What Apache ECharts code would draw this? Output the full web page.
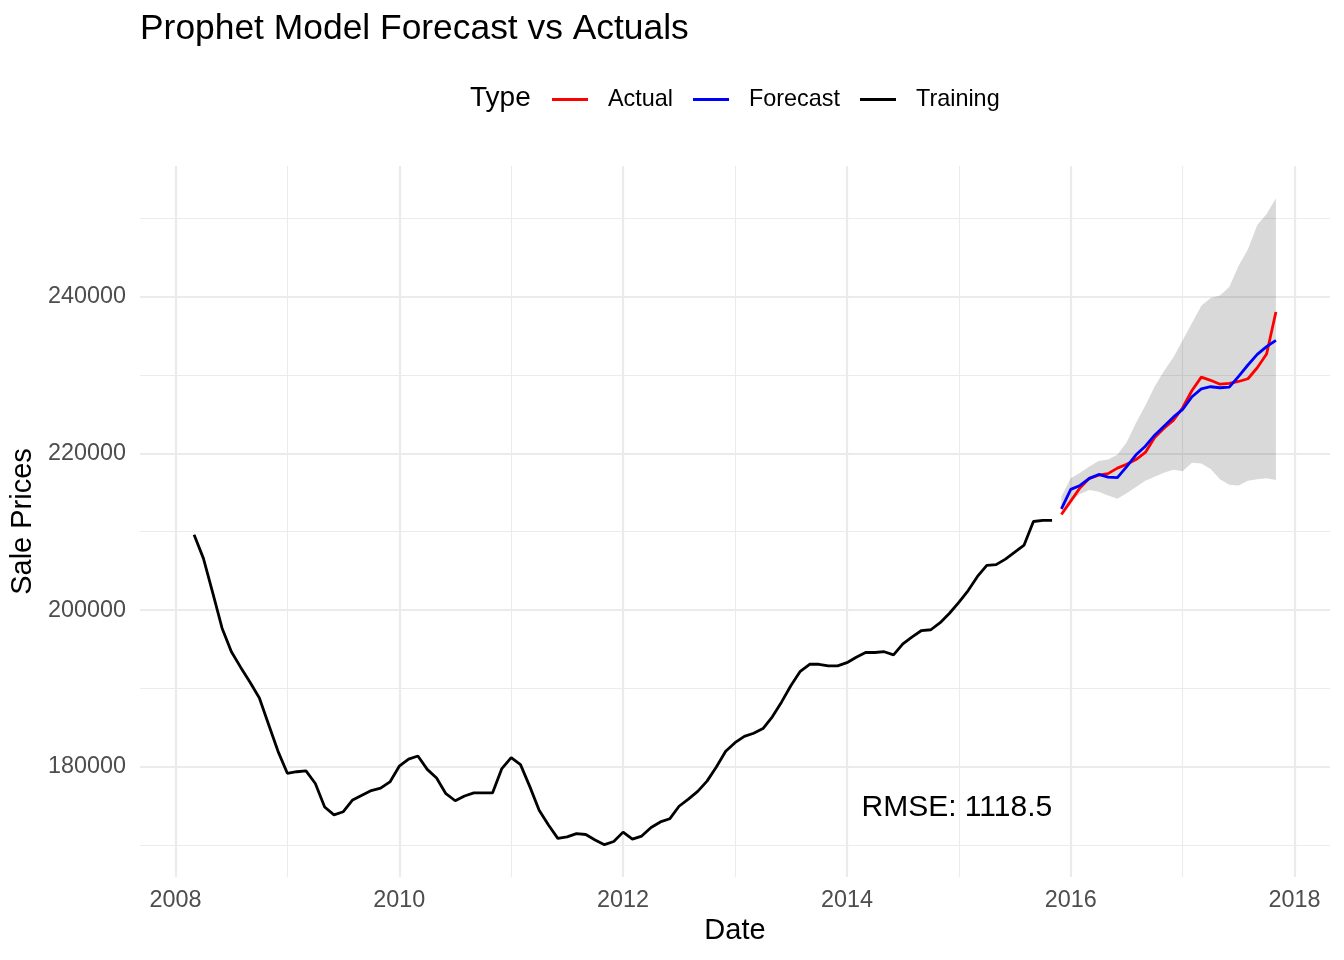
<!DOCTYPE html>
<html><head><meta charset="utf-8">
<script src="https://cdn.jsdelivr.net/npm/echarts@6/dist/echarts.min.js"></script>
<style>html,body{margin:0;padding:0;background:#fff}#c{width:1344px;height:960px}</style>
</head><body><div id="c"></div>
<script>
// ---- data ----
const trainingStart = [2008, 3];   // year, month of first training point (monthly)
const trainingValues = [
  209600, 206600, 202200, 197700, 194700, 192700, 190800, 188800, 185400, 182000,
  179200, 179400, 179500, 177900, 174900, 173900, 174300, 175800, 176400, 177000,
  177300, 178100, 180100, 181000, 181400, 179700, 178600, 176600, 175700, 176300,
  176700, 176700, 176700, 179800, 181200, 180300, 177500, 174500, 172600, 170900,
  171100, 171500, 171400, 170700, 170100, 170500, 171700, 170800, 171200, 172300,
  173000, 173400, 175000, 175900, 176900, 178200, 180000, 182000, 183100, 183900,
  184300, 184900, 186400, 188300, 190400, 192200, 193100, 193100, 192900, 192900,
  193300, 194000, 194600, 194600, 194700, 194300, 195700, 196600, 197400, 197500,
  198400, 199600, 201000, 202500, 204300, 205700, 205800, 206500, 207400, 208300,
  211300, 211450, 211450
];
const testStart = [2015, 12];      // first month of the test / forecast period
const actualValues = [
  212200, 213900, 215600, 216800, 217200, 217400, 218100, 218600, 219200, 220100,
  222000, 223200, 224200, 225800, 228000, 229700, 229300, 228800, 228900, 229150,
  229500, 230900, 232650, 238000
];
const forecastValues = [
  212900, 215400, 215900, 216800, 217300, 216950, 216900, 218300, 219800, 220900,
  222300, 223450, 224600, 225600, 227200, 228200, 228480, 228350, 228430, 229800,
  231250, 232600, 233600, 234400
];
const upperValues = [
  214500, 216800, 217500, 218300, 219000, 219200, 219800, 221400, 223900, 226100,
  228500, 230500, 232200, 234400, 236600, 238800, 239800, 240100, 241200, 243900,
  246000, 249100, 250500, 252500
];
const lowerValues = [
  212500, 213900, 214800, 215300, 215100, 214600, 214200, 214900, 215700, 216500,
  217000, 217500, 217900, 217700, 218800, 218700, 218000, 216700, 216000, 215900,
  216500, 216700, 216800, 216600
];
const xMajorTicks = [2008, 2010, 2012, 2014, 2016, 2018];
const xMinorTicks = [2009, 2011, 2013, 2015, 2017];
const yMajorTicks = [180000, 200000, 220000, 240000];
const yMinorTicks = [170000, 190000, 210000, 230000, 250000];
const seriesNames = ['Actual', 'Forecast', 'Training'];
const rmseText = 'RMSE: 1118.5';
const rmseAt = [2015, 175000];

// ---- helpers ----
function monthDates(start, n) {
  const out = [];
  for (let i = 0; i < n; i++) out.push(start[0] + (start[1] - 1 + i) / 12);
  return out;
}
const trainX = monthDates(trainingStart, trainingValues.length);
const testX = monthDates(testStart, actualValues.length);
const pair = (xs, ys) => xs.map((x, i) => [x, ys[i]]);
const bandData = testX.map((x, i) => [x, lowerValues[i], upperValues[i]]);

const allX = trainX.concat(testX);
const allY = trainingValues.concat(actualValues, forecastValues, upperValues, lowerValues);
const xLo = Math.min(...allX), xHi = Math.max(...allX);
const yLo = Math.min(...allY), yHi = Math.max(...allY);
const xMin = xLo - 0.05 * (xHi - xLo), xMax = xHi + 0.05 * (xHi - xLo);
const yMin = yLo - 0.05 * (yHi - yLo), yMax = yHi + 0.05 * (yHi - yLo);

const FONT = 'Liberation Sans';
const GRID = '#EBEBEB';

const gridLines = [].concat(
  xMajorTicks.map(v => ({ xAxis: v, lineStyle: { color: GRID, width: 2.2, type: 'solid' } })),
  xMinorTicks.map(v => ({ xAxis: v, lineStyle: { color: GRID, width: 1.1, type: 'solid' } })),
  yMajorTicks.map(v => ({ yAxis: v, lineStyle: { color: GRID, width: 2.2, type: 'solid' } })),
  yMinorTicks.map(v => ({ yAxis: v, lineStyle: { color: GRID, width: 1.1, type: 'solid' } }))
);

function renderBand(params, api) {
  if (params.dataIndex !== 0) return null;
  const top = bandData.map(d => api.coord([d[0], d[2]]));
  const bot = bandData.map(d => api.coord([d[0], d[1]])).reverse();
  return {
    type: 'polygon',
    shape: { points: top.concat(bot) },
    style: { fill: 'rgba(0,0,0,0.15)', stroke: null },
    silent: true
  };
}

const chart = echarts.init(document.getElementById('c'), null, { renderer: 'canvas' });
const lineW = 2.8;
chart.setOption({
  animation: false,
  backgroundColor: '#ffffff',
  title: [
    { text: 'Prophet Model Forecast vs Actuals', left: 135, top: 7,
      textStyle: { fontFamily: FONT, fontSize: 35.4, fontWeight: 'normal', color: '#000' } },
    { text: 'Type', left: 465, top: 79,
      textStyle: { fontFamily: FONT, fontSize: 28, fontWeight: 'normal', color: '#000' } }
  ],
  legend: {
    data: seriesNames,
    left: 547, top: 83,
    icon: 'rect', itemWidth: 36, itemHeight: 3, itemGap: 20,
    textStyle: { fontFamily: FONT, fontSize: 23.4, color: '#000', padding: [0, 0, 0, 15] },
    selectedMode: false
  },
  grid: { left: 140, right: 14, top: 166, bottom: 83, containLabel: false },
  xAxis: {
    type: 'value', min: xMin, max: xMax,
    name: 'Date', nameLocation: 'middle', nameGap: 39,
    nameTextStyle: { fontFamily: FONT, fontSize: 29, color: '#000' },
    axisLine: { show: false }, axisTick: { show: false }, splitLine: { show: false },
    axisLabel: {
      customValues: xMajorTicks,
      margin: 12, fontFamily: FONT, fontSize: 23.4, color: '#4D4D4D',
      formatter: v => {
        const r = Math.round(v);
        return (Math.abs(v - r) < 1e-6 && xMajorTicks.includes(r)) ? String(r) : '';
      }
    }
  },
  yAxis: {
    type: 'value', min: yMin, max: yMax,
    name: 'Sale Prices', nameLocation: 'middle', nameGap: 96, nameRotate: 90,
    nameTextStyle: { fontFamily: FONT, fontSize: 29, color: '#000' },
    axisLine: { show: false }, axisTick: { show: false }, splitLine: { show: false },
    axisLabel: {
      customValues: yMajorTicks,
      margin: 14, fontFamily: FONT, fontSize: 23.4, color: '#4D4D4D',
      formatter: v => {
        const r = Math.round(v);
        return (Math.abs(v - r) < 1e-3 && yMajorTicks.includes(r)) ? String(r) : '';
      }
    }
  },
  series: [
    { name: '_grid', type: 'line', data: [], z: 0, silent: true,
      markLine: { silent: true, symbol: ['none', 'none'], label: { show: false }, z: 0,
        animation: false, data: gridLines } },
    { name: '_band', type: 'custom', data: bandData, renderItem: renderBand,
      encode: { x: 0, y: [1, 2] }, z: 1, silent: true, clip: true },
    { name: 'Training', type: 'line', data: pair(trainX, trainingValues),
      showSymbol: false, symbol: 'none', color: '#000000',
      lineStyle: { color: '#000000', width: lineW }, z: 3 },
    { name: 'Actual', type: 'line', data: pair(testX, actualValues),
      showSymbol: false, symbol: 'none', color: '#FF0000',
      lineStyle: { color: '#FF0000', width: lineW }, z: 3 },
    { name: 'Forecast', type: 'line', data: pair(testX, forecastValues),
      showSymbol: false, symbol: 'none', color: '#0000FF',
      lineStyle: { color: '#0000FF', width: lineW }, z: 4 }
  ]
});

// RMSE annotation placed at a data coordinate through the chart's own scales
const rmsePx = chart.convertToPixel({ gridIndex: 0 }, rmseAt);
chart.setOption({
  graphic: [{
    type: 'text', x: rmsePx[0] - 2, y: rmsePx[1] + 1, z: 10, silent: true,
    style: { text: rmseText, fill: '#000000', font: '30px "Liberation Sans"',
      textAlign: 'center', textVerticalAlign: 'middle' }
  }]
});
</script>
</body></html>
